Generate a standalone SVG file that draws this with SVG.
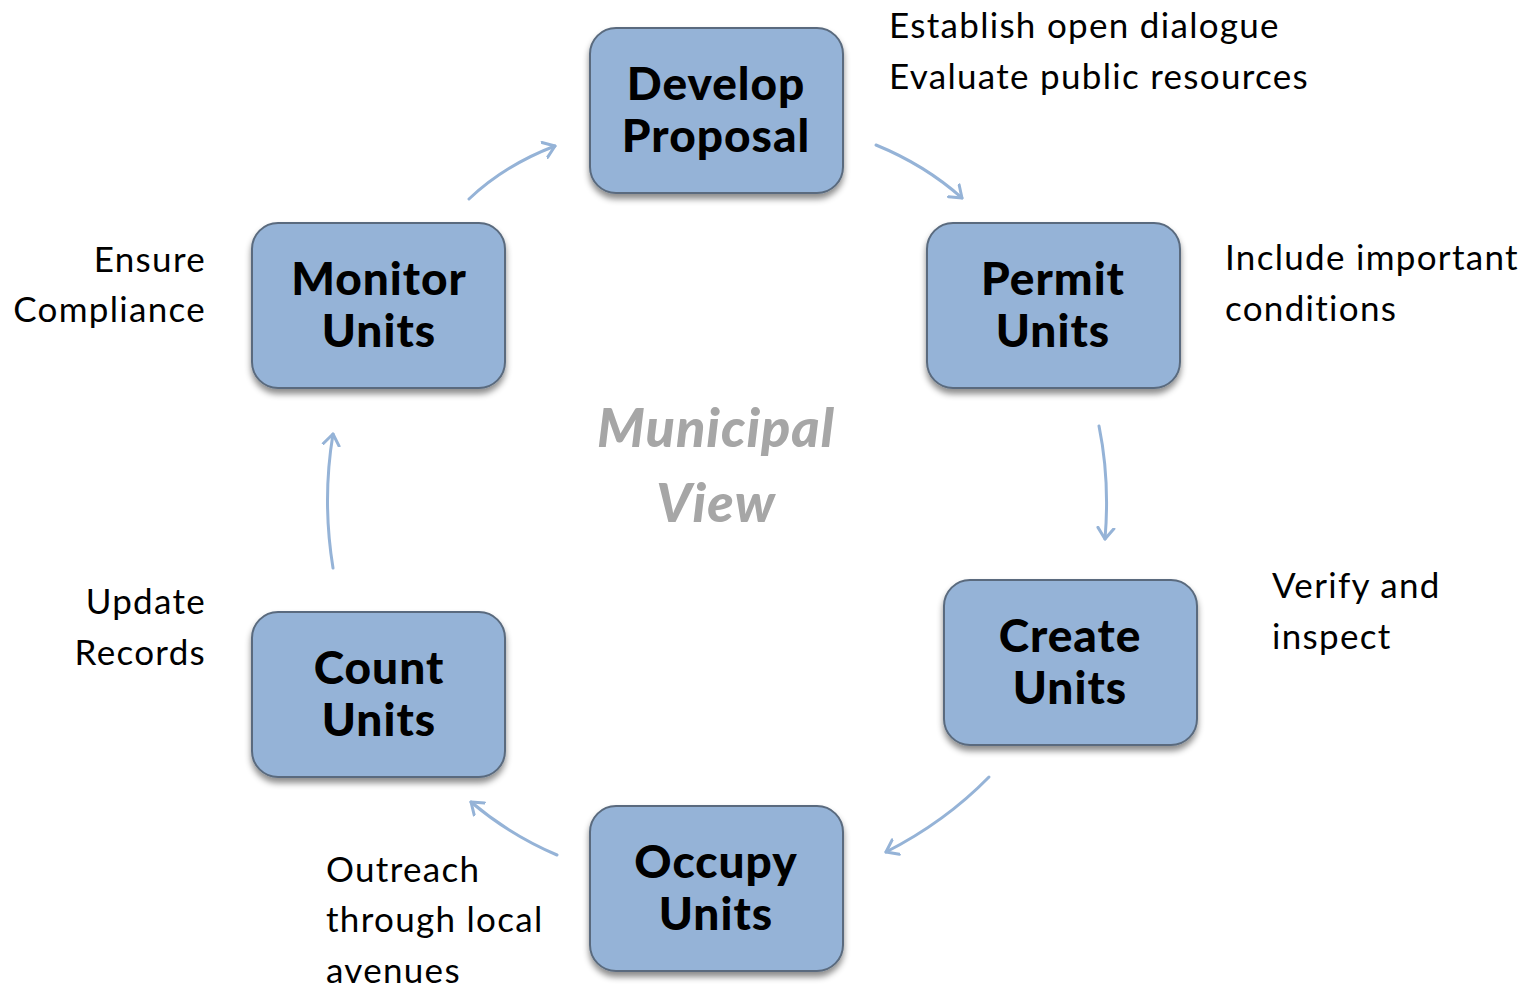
<svg xmlns="http://www.w3.org/2000/svg" width="1535" height="988" viewBox="0 0 1535 988">
<style>
.box{fill:#95b3d7;stroke:#5a6b7e;stroke-width:2;filter:url(#sh)}
.lbl{font-family:Lato,"DejaVu Sans",sans-serif;font-weight:900;font-size:46px;letter-spacing:1px;fill:#000;text-anchor:middle}
.ann{font-family:Lato,"DejaVu Sans",sans-serif;font-size:35px;letter-spacing:1.3px;fill:#000}
.r{text-anchor:end}
.ctr{font-family:Lato,"DejaVu Sans",sans-serif;font-weight:900;font-style:italic;font-size:54px;letter-spacing:1px;fill:#a6a6a6;text-anchor:middle}
.arr{fill:none;stroke:#95b3d7;stroke-width:3;stroke-linecap:round;marker-end:url(#ah)}
</style>
<defs>
<filter id="sh" x="-10%" y="-10%" width="120%" height="130%">
<feDropShadow dx="0" dy="5" stdDeviation="3" flood-color="#000" flood-opacity="0.45"/>
</filter>
<marker id="ah" viewBox="-12 -10 14 20" refX="0" refY="0" markerWidth="14" markerHeight="20" markerUnits="userSpaceOnUse" orient="auto">
<path d="M-11,-8 L0,0 L-11,8" fill="none" stroke="#95b3d7" stroke-width="3" stroke-linecap="round" stroke-linejoin="round"/>
</marker>
</defs>
<g id="connectors">
<path class="arr" d="M469,199 Q505,165 555,146"/>
<path class="arr" d="M876,145 Q925,165 962,198"/>
<path class="arr" d="M1099,426 Q1110,480 1105,539"/>
<path class="arr" d="M989,777 Q945,822 886,852"/>
<path class="arr" d="M557,855 Q510,835 471,802"/>
<path class="arr" d="M333,568 Q322,500 333,434"/>
</g>
<g id="develop">
<rect class="box" x="590" y="28" width="253" height="165" rx="26"/>
<text class="lbl" x="716" y="100">Develop</text>
<text class="lbl" x="716" y="152">Proposal</text>
</g>
<g id="permit">
<rect class="box" x="927" y="223" width="253" height="165" rx="26"/>
<text class="lbl" x="1053" y="295">Permit</text>
<text class="lbl" x="1053" y="347">Units</text>
</g>
<g id="create">
<rect class="box" x="944" y="580" width="253" height="165" rx="26"/>
<text class="lbl" x="1070" y="652">Create</text>
<text class="lbl" x="1070" y="704">Units</text>
</g>
<g id="occupy">
<rect class="box" x="590" y="806" width="253" height="165" rx="26"/>
<text class="lbl" x="716" y="878">Occupy</text>
<text class="lbl" x="716" y="930">Units</text>
</g>
<g id="count">
<rect class="box" x="252" y="612" width="253" height="165" rx="26"/>
<text class="lbl" x="379" y="684">Count</text>
<text class="lbl" x="379" y="736">Units</text>
</g>
<g id="monitor">
<rect class="box" x="252" y="223" width="253" height="165" rx="26"/>
<text class="lbl" x="379" y="295">Monitor</text>
<text class="lbl" x="379" y="347">Units</text>
</g>
<g id="center">
<text class="ctr" x="716" y="447">Municipal</text>
<text class="ctr" x="716" y="522">View</text>
</g>
<g id="annotations">
<text class="ann" x="889" y="38">Establish open dialogue</text>
<text class="ann" x="889" y="89">Evaluate public resources</text>
<text class="ann" x="1225" y="270">Include important</text>
<text class="ann" x="1225" y="321">conditions</text>
<text class="ann" x="1272" y="598">Verify and</text>
<text class="ann" x="1272" y="649">inspect</text>
<text class="ann" x="326" y="882">Outreach</text>
<text class="ann" x="326" y="932">through local</text>
<text class="ann" x="326" y="983">avenues</text>
<text class="ann r" x="206" y="272">Ensure</text>
<text class="ann r" x="206" y="322">Compliance</text>
<text class="ann r" x="206" y="614">Update</text>
<text class="ann r" x="206" y="665">Records</text>
</g>
</svg>
